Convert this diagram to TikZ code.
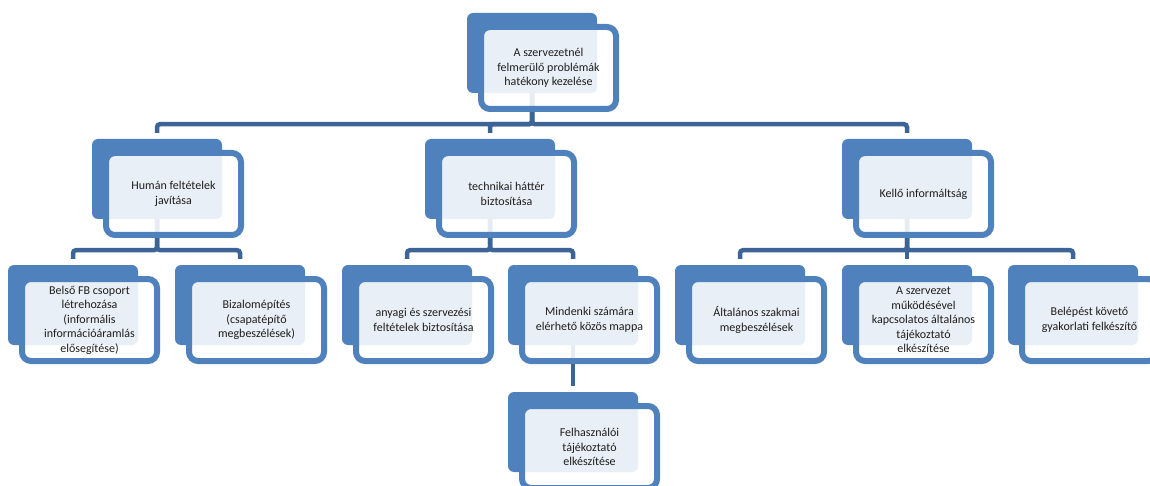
\documentclass[tikz,border=0pt]{standalone}
\usepackage{fontspec}
\setmainfont{Carlito}
\usepackage{tikz}
\usetikzlibrary{positioning,calc}
\definecolor{boxblue}{RGB}{79,129,189}
\definecolor{linkblue}{RGB}{60,100,150}
\definecolor{txtgray}{RGB}{30,30,30}
\tikzstyle{back}=[rectangle, rounded corners=6pt, fill=boxblue, minimum width=130pt, minimum height=80pt, inner sep=0pt]
\tikzstyle{front}=[rectangle, rounded corners=9pt, draw=boxblue, line width=6pt, fill=white, fill opacity=0.88, text opacity=1, minimum width=135pt, minimum height=82pt, inner sep=0pt, align=center, text=txtgray, font=\fontsize{12}{14.5}\selectfont]
\tikzstyle{link}=[draw=linkblue, line width=4.5pt, rounded corners=3pt]

\begin{document}
\begin{tikzpicture}[x=1pt,y=-1pt]
		\useasboundingbox (0,0) rectangle (1150,486);
		% back plates
		\node[back](topb)at(532,53){};
		\node[back](humb)at(157,179){};
		\node[back](techb)at(490,179){};
		\node[back](infob)at(907,179){};
		\node[back](belsob)at(73,305){};
		\node[back](bizb)at(240,305){};
		\node[back](anyagb)at(407,305){};
		\node[back](mappab)at(573,305){};
		\node[back](altb)at(740,305){};
		\node[back](szervb)at(907,305){};
		\node[back](belepb)at(1073,305){};
		\node[back](felhb)at(573,432){};
		% links
		\draw[link](topb.south)--++(0,31)-|([yshift=6pt]humb.north);
		\draw[link](topb.south)--++(0,31)-|([yshift=6pt]techb.north);
		\draw[link](topb.south)--++(0,31)-|([yshift=6pt]infob.north);
		\draw[link](humb.south)--++(0,31)-|([yshift=6pt]belsob.north);
		\draw[link](humb.south)--++(0,31)-|([yshift=6pt]bizb.north);
		\draw[link](techb.south)--++(0,31)-|([yshift=6pt]anyagb.north);
		\draw[link](techb.south)--++(0,31)-|([yshift=6pt]mappab.north);
		\draw[link](infob.south)--++(0,31)-|([yshift=6pt]altb.north);
		\draw[link](infob.south)--++(0,31)-|([yshift=6pt]szervb.north);
		\draw[link](infob.south)--++(0,31)-|([yshift=6pt]belepb.north);
		\draw[link](mappab.south)--([yshift=6pt]felhb.north);
		% front boxes
		\node[front](top)at([shift={(16.5,15)}]topb){A szervezetnél\\felmerülő problémák\\hatékony kezelése};
		\node[front](hum)at([shift={(16.5,15)}]humb){Humán feltételek\\javítása};
		\node[front](tech)at([shift={(16.5,15)}]techb){technikai háttér\\biztosítása};
		\node[front](info)at([shift={(16.5,15)}]infob){Kellő informáltság};
		\node[front](belso)at([shift={(16.5,15)}]belsob){Belső FB csoport\\létrehozása\\(informális\\információáramlás\\elősegítése)};
		\node[front](biz)at([shift={(16.5,15)}]bizb){Bizalomépítés\\(csapatépítő\\megbeszélések)};
		\node[front](anyag)at([shift={(16.5,15)}]anyagb){anyagi és szervezési\\feltételek biztosítása};
		\node[front](mappa)at([shift={(16.5,15)}]mappab){Mindenki számára\\elérhető közös mappa};
		\node[front](alt)at([shift={(16.5,15)}]altb){Általános szakmai\\megbeszélések};
		\node[front](szerv)at([shift={(16.5,15)}]szervb){A szervezet\\működésével\\kapcsolatos általános\\tájékoztató\\elkészítése};
		\node[front](belep)at([shift={(16.5,15)}]belepb){Belépést követő\\gyakorlati felkészítő};
		\node[front](felh)at([shift={(16.5,15)}]felhb){Felhasználói\\tájékoztató\\elkészítése};
\end{tikzpicture}
\end{document}
